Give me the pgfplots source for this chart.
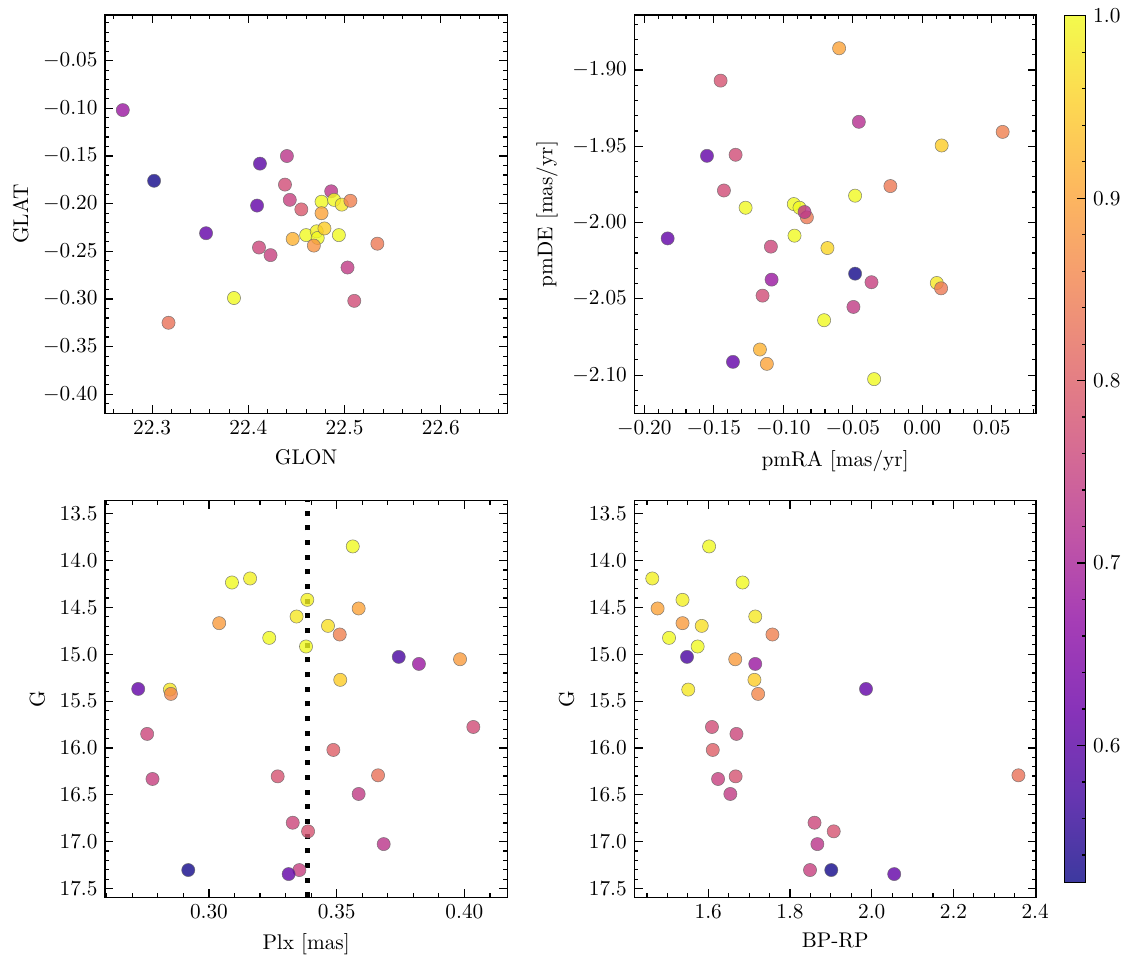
\documentclass[border=0pt]{standalone}
\usepackage{pgfplots}
\pgfplotsset{compat=1.18}
\usepackage{pgfplotstable}

\pgfplotstableread{
lon lat c
22.486 -0.187 0.73
22.476 -0.198 1.00
22.489 -0.196 1.00
22.497 -0.201 0.98
22.460 -0.233 1.00
22.471 -0.229 0.99
22.472 -0.236 1.00
22.479 -0.226 0.95
22.494 -0.233 1.00
22.2695 -0.1018 0.68
22.302 -0.176 0.53
22.356 -0.231 0.61
22.385 -0.299 1.00
22.317 -0.325 0.83
22.412 -0.158 0.60
22.409 -0.202 0.61
22.440 -0.150 0.73
22.438 -0.180 0.77
22.443 -0.196 0.75
22.455 -0.206 0.79
22.411 -0.246 0.76
22.423 -0.254 0.75
22.506 -0.197 0.85
22.476 -0.210 0.90
22.446 -0.237 0.92
22.468 -0.244 0.88
22.534 -0.242 0.84
22.503 -0.267 0.74
22.510 -0.302 0.77
}\tblpos

\pgfplotstableread{
pmra pmde c
-0.0598 -1.8858 0.90
-0.1451 -1.9070 0.78
-0.0456 -1.9340 0.72
0.0579 -1.9406 0.85
0.0140 -1.9495 0.95
-0.1549 -1.9563 0.61
-0.1343 -1.9556 0.77
-0.0229 -1.9761 0.84
-0.1427 -1.9790 0.77
-0.0483 -1.9824 1.00
-0.1271 -1.9903 1.00
-0.0924 -1.9879 1.00
-0.0883 -1.9903 1.00
-0.0830 -1.9966 0.84
-0.0847 -1.9931 0.73
-0.1832 -2.0104 0.61
-0.0919 -2.0086 1.00
-0.1089 -2.0158 0.76
-0.0682 -2.0167 0.96
-0.0483 -2.0335 0.53
-0.1084 -2.0374 0.68
-0.0365 -2.0391 0.75
0.0105 -2.0396 0.98
0.0136 -2.0431 0.84
-0.1149 -2.0479 0.77
-0.0495 -2.0553 0.74
-0.0706 -2.0640 1.00
-0.1168 -2.0832 0.92
-0.1362 -2.0913 0.61
-0.1118 -2.0926 0.90
-0.0346 -2.1026 1.00
}\tblpm

\pgfplotstableread{
G bprp plx c
13.849 1.602 0.3563 1.00
14.191 1.463 0.3161 0.99
14.234 1.684 0.3090 1.00
14.419 1.537 0.3385 0.99
14.511 1.476 0.3586 0.90
14.597 1.715 0.3343 0.98
14.668 1.537 0.3040 0.89
14.697 1.584 0.3466 0.97
14.789 1.757 0.3512 0.85
14.825 1.504 0.3236 1.00
14.917 1.574 0.3380 1.00
15.028 1.548 0.3743 0.58
15.053 1.666 0.3983 0.89
15.103 1.715 0.3822 0.68
15.273 1.713 0.3514 0.95
15.377 1.551 0.2847 0.98
15.423 1.722 0.2851 0.86
15.370 1.986 0.2723 0.61
15.776 1.609 0.4035 0.77
15.850 1.669 0.2758 0.76
16.021 1.611 0.3487 0.80
16.331 1.624 0.2779 0.75
16.303 1.667 0.3269 0.78
16.491 1.654 0.3586 0.74
16.292 2.359 0.3662 0.83
16.798 1.860 0.3328 0.76
16.890 1.907 0.3388 0.78
17.026 1.867 0.3684 0.73
17.303 1.849 0.3354 0.75
17.303 1.901 0.2919 0.53
17.346 2.055 0.3312 0.61
}\tblphot

\pgfplotsset{
  colormap={plasmaW}{rgb255=(61,57,159) rgb255=(103,54,177) rgb255=(136,51,185) rgb255=(165,61,182) rgb255=(193,85,166) rgb255=(214,108,147) rgb255=(231,131,129) rgb255=(245,157,111) rgb255=(253,184,94) rgb255=(253,216,81) rgb255=(243,250,77)},
  colormap={plasma}{rgb255=(13,8,135) rgb255=(65,4,157) rgb255=(106,0,168) rgb255=(143,13,164) rgb255=(177,42,144) rgb255=(204,71,120) rgb255=(225,100,98) rgb255=(242,132,75) rgb255=(252,166,54) rgb255=(252,206,37) rgb255=(240,249,33)},
  sp/.style={
    scale only axis, anchor=south west, axis on top,
    tick align=inside, xtick pos=both, ytick pos=both,
    major tick length=3.9pt, minor tick length=1.95pt,
    every tick/.style={black, line width=0.55pt},
    axis line style={line width=0.65pt},
    colormap name=plasma, point meta min=0.525, point meta max=1,
  },
  sc/.style={
    scatter, only marks, mark=*, mark size=3.1pt, point meta=explicit,
    scatter/use mapped color={draw=black!60, fill=mapped color},
    mark options={line width=0.25pt, fill opacity=0.8, draw opacity=0.8},
  },
  p2/.style={/pgf/number format/fixed, /pgf/number format/fixed zerofill, /pgf/number format/precision=2},
  p1/.style={/pgf/number format/fixed, /pgf/number format/fixed zerofill, /pgf/number format/precision=1},
}

\begin{document}
\begin{tikzpicture}
\useasboundingbox (0,0) rectangle (532.51pt,453.55pt);

% top left
\begin{axis}[sp, at={(49.35pt,259.30pt)}, width=189.08pt, height=187.20pt,
  xmin=22.251, xmax=22.669, ymin=-0.420, ymax=-0.002,
  xtick={22.3,22.4,22.5,22.6}, minor xtick={22.26,22.28,...,22.67},
  ytick={-0.40,-0.35,...,-0.04}, minor ytick={-0.41,-0.40,...,-0.005},
  xticklabel style={p1}, yticklabel style={p2},
  xlabel={GLON}, ylabel={GLAT}]
\addplot[sc] table[x=lon, y=lat, meta=c] {\tblpos};
\end{axis}

% top right
\begin{axis}[sp, at={(298.12pt,259.30pt)}, width=188.80pt, height=187.20pt,
  xmin=-0.2072, xmax=0.0819, ymin=-2.125, ymax=-1.864,
  xtick={-0.20,-0.15,-0.10,-0.05,0,0.05}, minor xtick={-0.20,-0.19,...,0.081},
  ytick={-2.10,-2.05,-2.00,-1.95,-1.90}, minor ytick={-2.12,-2.11,...,-1.865},
  xticklabel style={p2}, yticklabel style={p2},
  xlabel={pmRA [mas/yr]}, ylabel={pmDE [mas/yr]}]
\addplot[sc] table[x=pmra, y=pmde, meta=c] {\tblpm};
\end{axis}

% bottom left
\begin{axis}[sp, at={(49.35pt,31.82pt)}, width=189.08pt, height=186.40pt,
  xmin=0.2593, xmax=0.4168, ymin=13.361, ymax=17.594, y dir=reverse,
  xtick={0.30,0.35,0.40}, minor xtick={0.26,0.27,...,0.415},
  ytick={13.5,14,...,17.5}, minor ytick={13.4,13.5,...,17.55},
  xticklabel style={p2}, yticklabel style={p1},
  xlabel={Plx [mas]}, ylabel={G}]
\addplot[sc] table[x=plx, y=G, meta=c] {\tblphot};
\addplot[black, line width=2.35pt, dash pattern=on 2.35pt off 4.55pt] coordinates {(0.3384,17.594) (0.3384,13.361)};
\end{axis}

% bottom right
\begin{axis}[sp, at={(298.12pt,31.82pt)}, width=188.80pt, height=186.40pt,
  xmin=1.419, xmax=2.402, ymin=13.361, ymax=17.594, y dir=reverse,
  xtick={1.6,1.8,2.0,2.2,2.4}, minor xtick={1.45,1.50,...,2.41},
  ytick={13.5,14,...,17.5}, minor ytick={13.4,13.5,...,17.55},
  xticklabel style={p1}, yticklabel style={p1},
  xlabel={BP-RP}, ylabel={G}]
\addplot[sc] table[x=bprp, y=G, meta=c] {\tblphot};
\end{axis}

% colorbar
\begin{axis}[scale only axis, anchor=south west, axis on top,
  at={(500.22pt,38.87pt)}, width=10.06pt, height=407.30pt,
  xmin=0, xmax=1, ymin=0.525, ymax=1,
  xtick=\empty, ytick={0.6,0.7,0.8,0.9,1.0},
  minor ytick={0.54,0.56,...,0.99},
  ytick pos=right, yticklabel pos=right, tick align=inside,
  major tick length=3.9pt, minor tick length=1.95pt,
  every tick/.style={black, line width=0.55pt},
  axis line style={line width=0.65pt},
  yticklabel style={p1},
  colormap name=plasmaW, point meta min=0.525, point meta max=1]
\addplot[surf, shader=interp, point meta=y, mesh/rows=2, mesh/cols=2] coordinates {(0,0.525) (1,0.525) (0,1) (1,1)};
\end{axis}
\end{tikzpicture}
\end{document}
